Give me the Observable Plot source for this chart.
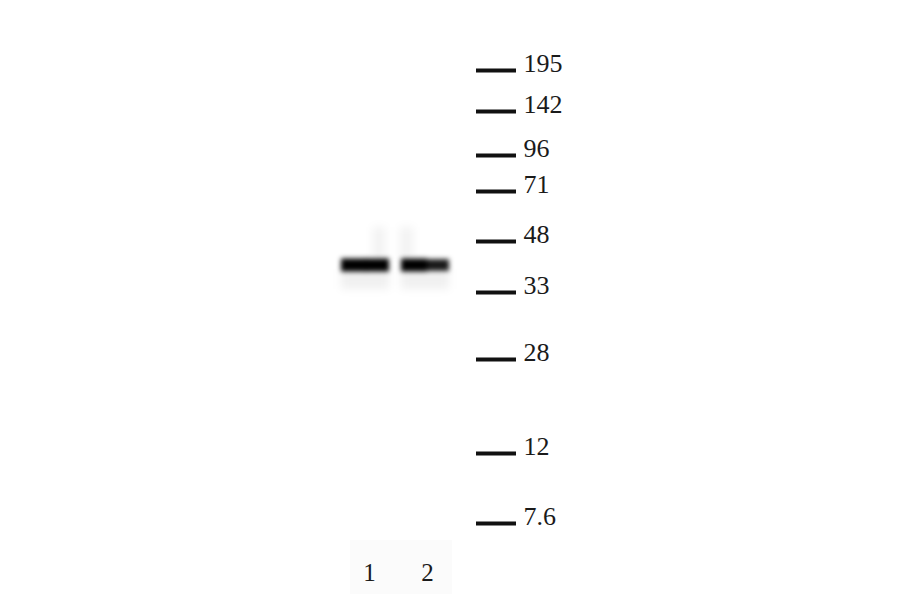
<!DOCTYPE html>
<html>
<head>
<meta charset="utf-8">
<script src="https://cdn.jsdelivr.net/npm/d3@7"></script>
<script src="https://cdn.jsdelivr.net/npm/@observablehq/plot@0.6"></script>
<style>
  html, body { margin: 0; padding: 0; background: #fff; }
  #chart { width: 900px; height: 594px; }
</style>
</head>
<body>
<div id="chart"></div>
<script>
// Molecular-weight ladder (kDa) and its migration distance in the gel
const markerLabels = ["195", "142", "96", "71", "48", "33", "28", "12", "7.6"];
const markerMigration = [70, 111, 155, 191, 241, 292, 359, 453, 523];

// Sample lanes
const laneNames = ["1", "2"];
const laneCenters = [365, 425];
const laneLabelX = [369, 427];

// Detected band per lane: migration distance and intensity (left half, right half)
const bandMigration = [265, 265];
const bandIntensityLeft = [1.0, 1.0];
const bandIntensityRight = [1.0, 0.9];

// layout constants
const ladderX1 = 476, ladderX2 = 516, ladderTextX = 523;
const laneHalf = 24;
const laneLabelY = 572;
const serif = "Liberation Serif, Times New Roman, serif";

const markers = markerLabels.map((label, i) => ({label, pos: markerMigration[i]}));
const bandSegs = [];
laneNames.forEach((lane, i) => {
  const c = laneCenters[i];
  bandSegs.push({lane, x1: c - laneHalf, x2: c + 2, pos: bandMigration[i], k: bandIntensityLeft[i]});
  bandSegs.push({lane, x1: c, x2: c + laneHalf, pos: bandMigration[i], k: bandIntensityRight[i]});
});
const lanes = laneNames.map((name, i) => ({name, x: laneLabelX[i], c: laneCenters[i], pos: bandMigration[i]}));

const svg = Plot.plot({
  width: 900,
  height: 594,
  margin: 0,
  x: {domain: [0, 900], axis: null},
  y: {domain: [0, 594], reverse: true, axis: null},
  marks: [
    // faint lane label panel
    Plot.rect([0], {x1: 350, x2: 452, y1: 540, y2: 594, fill: "#fbfbfb"}),
    // haze below/above bands
    Plot.rect(lanes, {x1: d => d.c - laneHalf, x2: d => d.c + laneHalf, y1: d => d.pos + 4, y2: d => d.pos + 24, fill: "#000", fillOpacity: 0.06, className: "haze"}),
    Plot.rect(lanes, {x1: d => d.c + (d.name === "1" ? 8 : -25), x2: d => d.c + (d.name === "1" ? 20 : -12), y1: d => d.pos - 38, y2: d => d.pos - 6, fill: "#000", fillOpacity: 0.05, className: "haze"}),
    // bands
    Plot.rect(bandSegs, {x1: "x1", x2: "x2", y1: d => d.pos - 6.5 * d.k, y2: d => d.pos + 6.5 * d.k, fill: "#000", fillOpacity: d => d.k, className: "band"}),
    // ladder
    Plot.ruleY(markers, {y: "pos", x1: ladderX1, x2: ladderX2, stroke: "#111", strokeWidth: 4}),
    Plot.text(markers, {x: ladderTextX, y: "pos", text: "label", textAnchor: "start", dy: -7, fontSize: 26, fontFamily: serif, fill: "#1a1a1a"}),
    // lane labels
    Plot.text(lanes, {x: "x", y: laneLabelY, text: "name", fontSize: 25, fontFamily: serif, fill: "#1a1a1a"})
  ]
});

const s = d3.select(svg);
s.insert("defs", ":first-child").html(
  '<filter id="blur" x="-20%" y="-100%" width="140%" height="300%"><feGaussianBlur stdDeviation="2.6"/></filter>' +
  '<filter id="blur2" x="-30%" y="-60%" width="160%" height="220%"><feGaussianBlur stdDeviation="4"/></filter>'
);
s.selectAll("g.band").attr("filter", "url(#blur)");
s.selectAll("g.haze").attr("filter", "url(#blur2)");
document.getElementById("chart").appendChild(svg);
</script>
</body>
</html>
